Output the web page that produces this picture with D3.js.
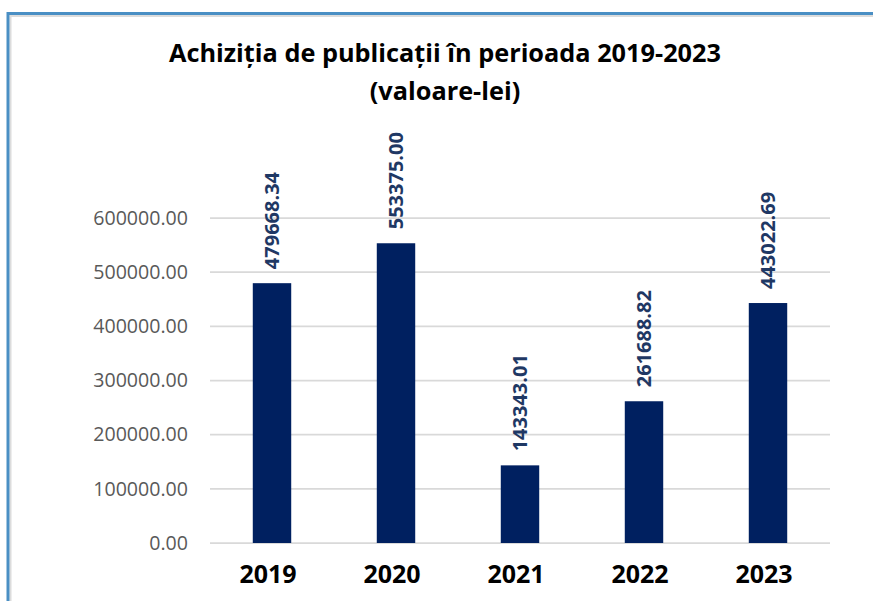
<!DOCTYPE html>
<html>
<head>
<meta charset="utf-8">
<script src="https://cdn.jsdelivr.net/npm/d3@7"></script>
<style>
  html, body { margin: 0; padding: 0; background: #fff; }
  svg { display: block; }
</style>
</head>
<body>
<svg id="chart" width="873" height="601"></svg>
<script>
const years = ['2019', '2020', '2021', '2022', '2023'];
const values = [479668.34, 553375.00, 143343.01, 261688.82, 443022.69];
const yTicks = [0, 100000, 200000, 300000, 400000, 500000, 600000];
const titleLines = ['Achiziția de publicații în perioada 2019-2023', '(valoare-lei)'];

const svg = d3.select('#chart');
const width = 873;
const height = 601;
const margin = { top: 218, right: 43, bottom: 58, left: 210 };

// frame
svg.append('path')
  .attr('d', `M10.5,${height} V16 H${width}`)
  .attr('fill', 'none')
  .attr('stroke', '#dcdcdc')
  .attr('stroke-width', 2);
svg.append('path')
  .attr('d', `M8,${height} V13.5 H${width}`)
  .attr('fill', 'none')
  .attr('stroke', '#4a8fc4')
  .attr('stroke-width', 3);

const x = d3.scaleBand()
  .domain(years)
  .range([margin.left, width - margin.right])
  .paddingInner(0.69)
  .paddingOuter(0.345);

const y = d3.scaleLinear()
  .domain([0, 600000])
  .range([height - margin.bottom, margin.top]);

// title
svg.append('g')
  .selectAll('text')
  .data(titleLines)
  .enter()
  .append('text')
  .attr('x', 445)
  .attr('y', (d, i) => 62 + i * 38)
  .attr('text-anchor', 'middle')
  .attr('font-family', 'Open Sans, sans-serif')
  .attr('font-weight', 'bold')
  .attr('font-size', 25.3)
  .attr('fill', '#000')
  .text(d => d);

// grid lines
svg.append('g')
  .selectAll('line')
  .data(yTicks)
  .enter()
  .append('line')
  .attr('x1', margin.left)
  .attr('x2', width - margin.right)
  .attr('y1', d => y(d))
  .attr('y2', d => y(d))
  .attr('stroke', '#d9d9d9')
  .attr('stroke-width', 1.75);

// y axis
const yAxis = svg.append('g')
  .attr('transform', `translate(${margin.left - 22},0)`)
  .call(d3.axisLeft(y).tickValues(yTicks).tickFormat(d3.format('.2f')).tickSize(0).tickPadding(0));
yAxis.select('.domain').remove();
yAxis.selectAll('text')
  .attr('font-family', 'Open Sans, sans-serif')
  .attr('font-size', 19.6)
  .attr('fill', '#595959');

// bars
svg.append('g')
  .selectAll('rect')
  .data(values)
  .enter()
  .append('rect')
  .attr('x', (d, i) => x(years[i]))
  .attr('y', d => y(d))
  .attr('width', x.bandwidth())
  .attr('height', d => y(0) - y(d))
  .attr('fill', '#002060');

// value labels
svg.append('g')
  .selectAll('text')
  .data(values)
  .enter()
  .append('text')
  .attr('transform', (d, i) => `translate(${x(years[i]) + x.bandwidth() / 2},${y(d) - 14}) rotate(-90)`)
  .attr('dy', '0.36em')
  .attr('text-anchor', 'start')
  .attr('font-family', 'Open Sans, sans-serif')
  .attr('font-weight', 'bold')
  .attr('font-size', 20)
  .attr('fill', '#1f3864')
  .text(d => d.toFixed(2));

// x axis
const xAxis = svg.append('g')
  .attr('transform', `translate(-4,${height - margin.bottom})`)
  .call(d3.axisBottom(x).tickSize(0).tickPadding(22));
xAxis.select('.domain').remove();
xAxis.selectAll('text')
  .attr('font-family', 'Open Sans, sans-serif')
  .attr('font-weight', 'bold')
  .attr('font-size', 25)
  .attr('fill', '#000')
  .attr('dy', '0.71em');
</script>
</body>
</html>
